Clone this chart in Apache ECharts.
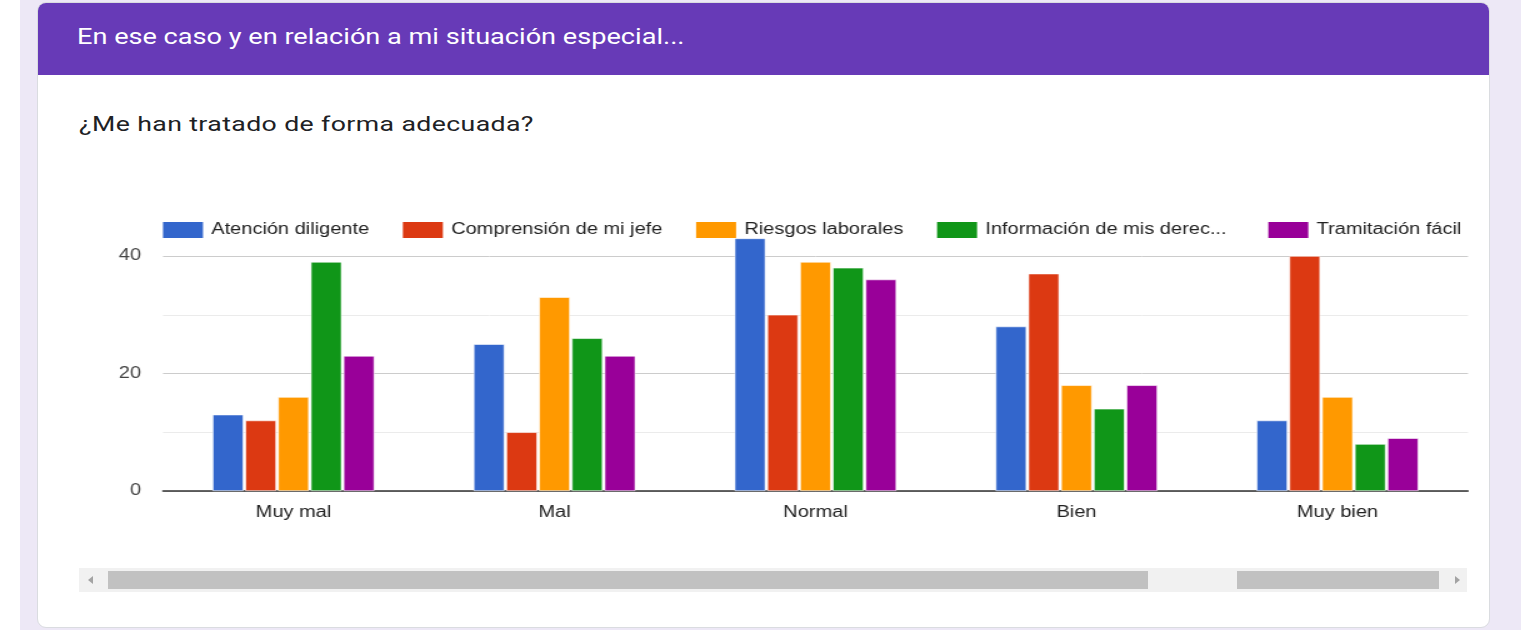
<!DOCTYPE html>
<html>
<head>
<meta charset="utf-8">
<script src="https://cdn.jsdelivr.net/npm/echarts@6/dist/echarts.min.js"></script>
<style>
  html, body { margin:0; padding:0; width:1521px; height:630px; overflow:hidden; background:#fff; }
  #bg { position:absolute; left:20px; top:0; width:1501px; height:630px; background:#ede8f6; }
  #card { position:absolute; left:37px; top:2px; width:1451px; height:624px; background:#fff; border:1px solid #dadce0; border-radius:9px; overflow:hidden; }
  #header { position:absolute; left:0; top:0; width:100%; height:72px; background:#673ab7; }
  #htext { position:absolute; left:39px; top:21px; color:#fff; font-family:Roboto, "Noto Sans", sans-serif; font-size:22px; white-space:nowrap; transform:scaleX(1.233); transform-origin:0 0; }
  #q { position:absolute; left:41px; top:109px; color:#202124; font-family:Roboto, "Noto Sans", sans-serif; font-size:21px; letter-spacing:0.3px; white-space:nowrap; transform:scaleX(1.27); transform-origin:0 0; }
  #track { position:absolute; left:41px; top:565px; width:1388px; height:24px; background:#f1f1f1; }
  .thumb { position:absolute; top:3px; height:18px; background:#c1c1c1; }
  .arr { position:absolute; top:8px; width:0; height:0; border-top:4px solid transparent; border-bottom:4px solid transparent; }
  #chart { position:absolute; left:0; top:0; width:1217px; height:630px; transform:scaleX(1.25); transform-origin:0 0; }
</style>
</head>
<body>
<div id="bg"></div>
<div id="card">
  <div id="header"><div id="htext">En ese caso y en relación a mi situación especial...</div></div>
  <div id="q">¿Me han tratado de forma adecuada?</div>
  <div id="track">
    <div class="arr" style="left:9px;border-right:5px solid #a3a3a3;"></div>
    <div class="thumb" style="left:29px;width:1040px;"></div>
    <div class="thumb" style="left:1158px;width:202px;"></div>
    <div class="arr" style="left:1376px;border-left:5px solid #a3a3a3;"></div>
  </div>
</div>
<div id="chart"></div>
<script>
const categories = ['Muy mal', 'Mal', 'Normal', 'Bien', 'Muy bien'];
const seriesNames = ['Atención diligente', 'Comprensión de mi jefe', 'Riesgos laborales', 'Información de mis derechos', 'Tramitación fácil'];
const atencion = [13, 25, 43, 28, 12];
const comprension = [12, 10, 30, 37, 40];
const riesgos = [16, 33, 39, 18, 16];
const informacion = [39, 26, 38, 14, 8];
const tramitacion = [23, 23, 36, 18, 9];
const yTicks = [0, 20, 40];
const colors = ['#3366cc', '#dc3912', '#ff9900', '#109618', '#990099'];

const values = [atencion, comprension, riesgos, informacion, tramitacion];
const chart = echarts.init(document.getElementById('chart'), null, { renderer: 'canvas' });
const font = '"Liberation Sans", Arial, sans-serif';
chart.setOption({
  animation: false,
  color: colors,
  legend: {
    left: 130.4, top: 217, padding: [5, 0, 5, 0],
    itemWidth: 32, itemHeight: 16, itemGap: 27,
    icon: 'rect',
    itemStyle: { borderWidth: 0 },
    textStyle: { fontFamily: font, fontSize: 16, color: '#222', padding: [0, 0, 0, 1.6] },
    formatter: n => n.length > 26 ? n.slice(0, 24) + '...\u2009\u2009' : n
  },
  grid: { left: 130.4, right: 42.6, top: 256, bottom: 139 },
  xAxis: {
    type: 'category', data: categories,
    axisTick: { show: false },
    axisLine: { lineStyle: { color: '#333', width: 1.5 } },
    axisLabel: { fontFamily: font, fontSize: 16, color: '#222', margin: 14 }
  },
  yAxis: {
    type: 'value', min: 0, max: 40, interval: 10,
    axisLine: { show: false }, axisTick: { show: false },
    splitLine: { lineStyle: { color: ['#cccccc', '#ebebeb'], width: 1 } },
    axisLabel: { fontFamily: font, fontSize: 16, color: '#444', margin: 17.6,
      formatter: v => yTicks.includes(v) ? String(v) : '' }
  },
  series: seriesNames.map((name, i) => ({
    name, type: 'bar', data: values[i], clip: false,
    barGap: '6%', barCategoryGap: '38%',
    itemStyle: { borderColor: '#fff', borderWidth: 0.6 }
  }))
});
</script>
</body>
</html>
